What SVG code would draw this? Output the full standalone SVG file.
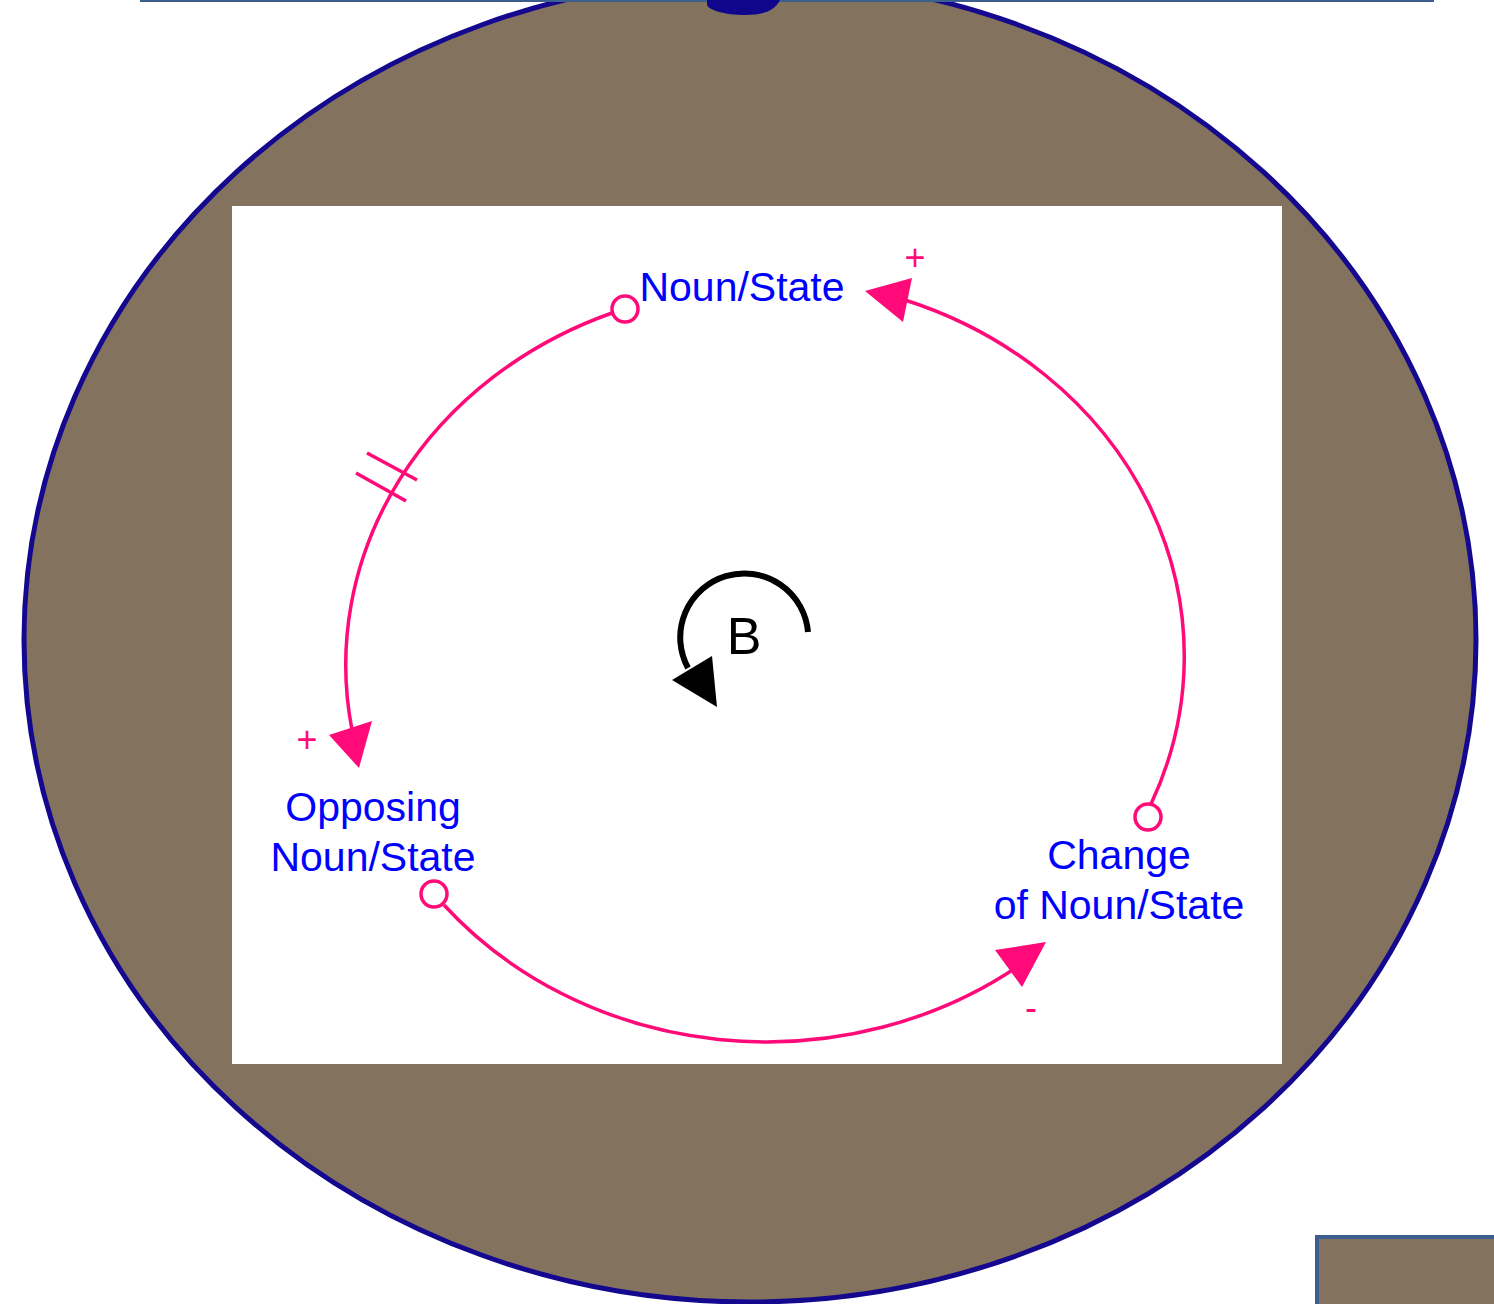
<svg xmlns="http://www.w3.org/2000/svg" width="1494" height="1304" viewBox="0 0 1494 1304">
<style>
.lbl{font-family:"Liberation Sans",Arial,sans-serif;font-size:41px;fill:#0000ff;text-anchor:middle}
.pol{font-family:"Liberation Sans",Arial,sans-serif;font-size:36px;fill:#ff0a78;text-anchor:middle}
.lnk{fill:none;stroke:#ff0a78;stroke-width:3.5}
.hd{fill:#ff0a78}
.ring{fill:#fff;stroke:#ff0a78;stroke-width:3.5}
</style>
<rect width="1494" height="1304" fill="#fff"/>
<g id="background">
<ellipse cx="750" cy="640" rx="726" ry="662" fill="#83725d" stroke="#14088f" stroke-width="5"/>
<line x1="140" y1="0.5" x2="1434" y2="0.5" stroke="#3d5f8e" stroke-width="3"/>
<path d="M707,0 L780,0 C775,10 765,15 745,15 C725,15 707,10 707,4 Z" fill="#10068c"/>
<rect x="1317" y="1237" width="190" height="90" fill="#83725d" stroke="#3c5f90" stroke-width="4"/>
<rect x="232" y="206" width="1050" height="858" fill="#fff"/>
</g>
<g id="connectors">
<path class="lnk" d="M612,313 A419,378 0 0 0 352,730"/>
<polygon class="hd" points="329,735 372,721 359,768"/>
<line x1="367" y1="453" x2="417" y2="480" stroke="#ff0a78" stroke-width="3.5"/>
<line x1="356" y1="473" x2="406" y2="501" stroke="#ff0a78" stroke-width="3.5"/>
<path class="lnk" d="M444,905 A419,378 0 0 0 1020,965"/>
<polygon class="hd" points="995,950 1022,987 1046,942"/>
<path class="lnk" d="M1151,804 A419,378 0 0 0 905,300"/>
<polygon class="hd" points="912,278 903,322 865,291"/>
<circle class="ring" cx="625" cy="309" r="13"/>
<circle class="ring" cx="434" cy="894" r="13"/>
<circle class="ring" cx="1148" cy="817" r="13"/>
<text class="pol" x="915" y="270">+</text>
<text class="pol" x="307" y="752">+</text>
<text class="pol" x="1031" y="1020">-</text>
</g>
<g id="node-noun-state"><text class="lbl" x="742" y="301">Noun/State</text></g>
<g id="node-opposing"><text class="lbl" x="373" y="821">Opposing</text><text class="lbl" x="373" y="871">Noun/State</text></g>
<g id="node-change"><text class="lbl" x="1119" y="869">Change</text><text class="lbl" x="1119" y="919">of Noun/State</text></g>
<g id="loop-b">
<path d="M808,632 A64,64 0 1 0 688,668" fill="none" stroke="#000" stroke-width="6"/>
<polygon points="672,680 712,656 717,707" fill="#000"/>
<text x="744" y="654" font-family="'Liberation Sans',Arial,sans-serif" font-size="52" text-anchor="middle" fill="#000">B</text>
</g>
</svg>
